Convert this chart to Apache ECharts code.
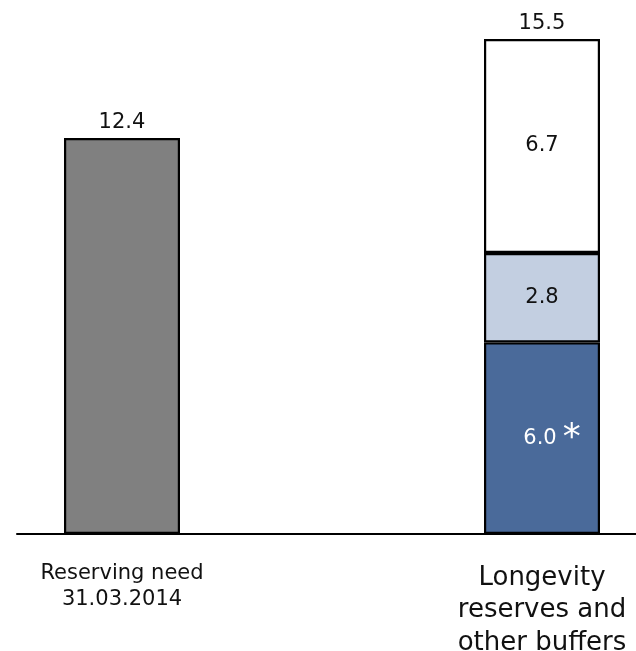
<!DOCTYPE html>
<html><head><meta charset="utf-8">
<script src="https://cdn.jsdelivr.net/npm/echarts@6/dist/echarts.min.js"></script>
<style>html,body{margin:0;padding:0;background:#fff}#c{width:636px;height:651px}</style>
</head><body><div id="c"></div>
<script>
const categories = ['Reserving need\n31.03.2014', 'Longevity\nreserves and\nother buffers'];
const reservingNeed = [12.4, '-'];
const baseReserve = ['-', 6.0];
const midBuffer = ['-', 2.8];
const topBuffer = ['-', 6.7];
const totals = ['-', 15.5];
const footnoteMark = '*';
const yMax = 16;

const FONT = 'DejaVu Sans';
const TXT = '#111';
const fmt1 = p => Number(p.value).toFixed(1);
const BW = 116;
const common = { type: 'bar', stack: 'x', barWidth: BW, barGap: '-100%' };
const chart = echarts.init(document.getElementById('c'), null, { renderer: 'canvas' });
chart.setOption({
  animation: false,
  backgroundColor: '#fff',
  grid: [
    { left: -88, right: -116, top: 23, bottom: 117, outerBoundsMode: 'none', containLabel: false },
    { left: 17, right: 0, top: 23, bottom: 117, outerBoundsMode: 'none', containLabel: false }
  ],
  xAxis: [
    {
      type: 'category', data: categories, gridIndex: 0,
      axisLine: { show: false }, axisTick: { show: false },
      axisLabel: {
        interval: 0, margin: 27,
        formatter: (v, i) => v.split('\n').map(l => '{' + (i === 0 ? 'a' : 'b') + '|' + l + '}').join('\n'),
        rich: {
          a: { fontFamily: FONT, fontSize: 21, lineHeight: 26, color: TXT },
          b: { fontFamily: FONT, fontSize: 26, lineHeight: 32.5, color: TXT, padding: [1, 0, 0, 0] }
        }
      }
    },
    {
      type: 'category', data: [''], gridIndex: 1,
      axisLine: { show: true, onZero: false, lineStyle: { color: '#000', width: 2 } },
      axisTick: { show: false }, axisLabel: { show: false }
    }
  ],
  yAxis: [
    { type: 'value', min: 0, max: yMax, gridIndex: 0, show: false },
    { type: 'value', min: 0, max: 1, gridIndex: 1, show: false }
  ],
  series: [
    Object.assign({}, common, {
      name: 'need', data: reservingNeed,
      itemStyle: { color: '#808080', borderColor: '#000', borderWidth: 2.2 },
      label: { show: true, position: 'top', distance: 5, formatter: fmt1, fontFamily: FONT, fontSize: 21, color: TXT }
    }),
    Object.assign({}, common, {
      name: 'base', data: baseReserve,
      itemStyle: { color: '#4a6a9a', borderColor: '#000', borderWidth: 2.2 },
      label: {
        show: true, position: 'inside', offset: [10, 0],
        formatter: p => '{v|' + fmt1(p) + '}{s|' + footnoteMark + '}',
        rich: {
          v: { fontFamily: FONT, fontSize: 21, color: '#fff' },
          s: { fontFamily: FONT, fontSize: 36, color: '#fff', padding: [0, 0, 0, 6] }
        }
      }
    }),
    Object.assign({}, common, {
      name: 'mid', data: midBuffer,
      itemStyle: { color: '#c3cfe1', borderColor: '#000', borderWidth: 2.2 },
      label: { show: true, position: 'inside', formatter: fmt1, fontFamily: FONT, fontSize: 21, color: TXT }
    }),
    Object.assign({}, common, {
      name: 'top', data: topBuffer,
      itemStyle: { color: '#ffffff', borderColor: '#000', borderWidth: 2.2 },
      label: { show: true, position: 'inside', formatter: fmt1, fontFamily: FONT, fontSize: 21, color: TXT }
    }),
    {
      type: 'bar', name: 'total', data: totals, barWidth: BW, barGap: '-100%', z: 1, silent: true,
      itemStyle: { color: 'rgba(0,0,0,0)', borderWidth: 0 },
      label: { show: true, position: 'top', distance: 5, formatter: fmt1, fontFamily: FONT, fontSize: 21, color: TXT }
    }
  ]
});
</script>
</body></html>
